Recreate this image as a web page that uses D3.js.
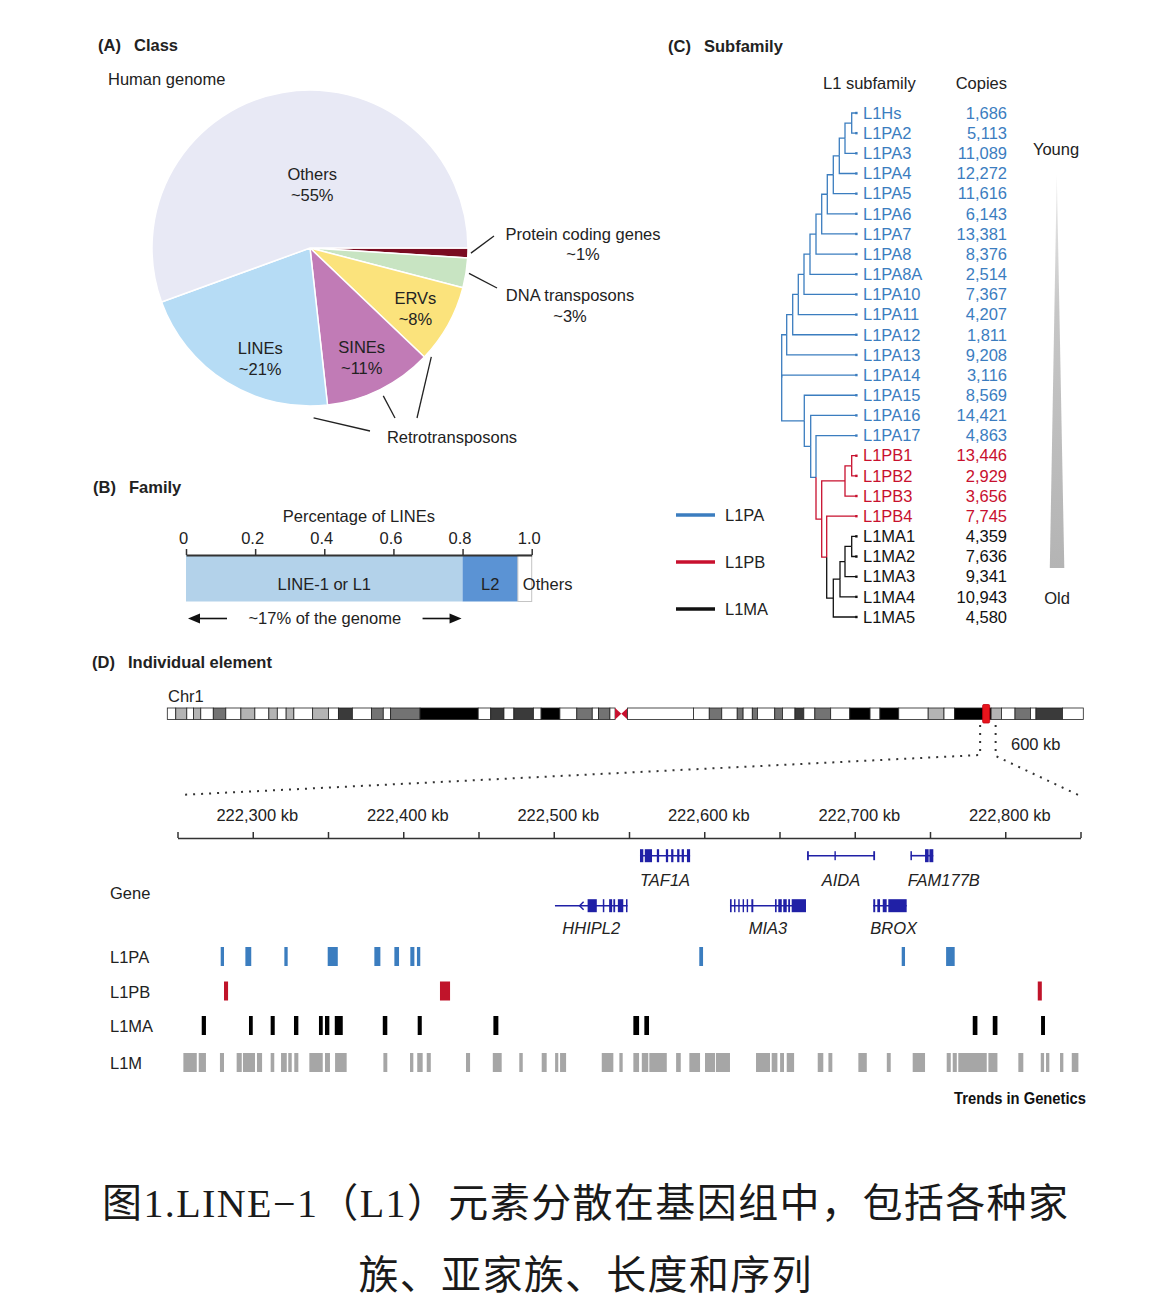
<!DOCTYPE html>
<html><head><meta charset="utf-8"><title>LINE-1 figure</title>
<script src="https://cdn.jsdelivr.net/npm/d3@7/dist/d3.min.js"></script>
<style>html,body{margin:0;padding:0;background:#fff;} svg{display:block;}</style>
</head><body>
<svg id="fig" width="1170" height="1310" viewBox="0 0 1170 1310"></svg>
<script>
// ================= DATA =================
// (A) Class
const classLabels = ["Protein coding genes","DNA transposons","ERVs","SINEs","LINEs","Others"];
const classValues = [1,3,8,11,21,55];
const classColors = ["#7a0b21","#c8e4c2","#fbe37c","#c17bb6","#b6dcf5","#e8e9f5"];

// (B) Family
const familyNames = ["LINE-1 or L1","L2","Others"];
const familyValues = [0.80,0.16,0.04];
const familyColors = ["#b3d2ea","#5b93d4","#ffffff"];
const familyTicks = [0,0.2,0.4,0.6,0.8,1.0];

// (C) Subfamily
const subfamilies = ["L1Hs","L1PA2","L1PA3","L1PA4","L1PA5","L1PA6","L1PA7","L1PA8","L1PA8A","L1PA10","L1PA11","L1PA12","L1PA13","L1PA14","L1PA15","L1PA16","L1PA17","L1PB1","L1PB2","L1PB3","L1PB4","L1MA1","L1MA2","L1MA3","L1MA4","L1MA5"];
const subCopies = [1686,5113,11089,12272,11616,6143,13381,8376,2514,7367,4207,1811,9208,3116,8569,14421,4863,13446,2929,3656,7745,4359,7636,9341,10943,4580];
const subGroups = ["L1PA","L1PA","L1PA","L1PA","L1PA","L1PA","L1PA","L1PA","L1PA","L1PA","L1PA","L1PA","L1PA","L1PA","L1PA","L1PA","L1PA","L1PB","L1PB","L1PB","L1PB","L1MA","L1MA","L1MA","L1MA","L1MA"];
const groupNames = ["L1PA","L1PB","L1MA"];
const groupColors = ["#3b7dbf","#c8102e","#111111"];
// tree: [node height, ...children]; leaves are names
const l1Tree = [75,
  [70,[64,[58.4,[52.7,[46.7,[40.7,[35,[29.4,[23.4,[17.4,[11.7,[5,"L1Hs","L1PA2"],"L1PA3"],"L1PA4"],"L1PA5"],"L1PA6"],"L1PA7"],"L1PA8"],"L1PA8A"],"L1PA10"],"L1PA11"],"L1PA12"],"L1PA13"],
  "L1PA14",
  [52.4,"L1PA15",[46,"L1PA16",[40.7,"L1PA17",[35,[11.7,[5,"L1PB1","L1PB2"],"L1PB3"],[30,"L1PB4",[23.4,[16.7,[11.7,[5,"L1MA1","L1MA2"],"L1MA3"],"L1MA4"],"L1MA5"]]]]]]
];

// (D) Chr1 ideogram (Mb)
const chrLength = 248.96;
const bandStart = [0,2.3,5.3,7.1,9.1,12.5,15.9,20.0,23.8,27.6,29.9,32.3,34.4,39.5,43.8,46.5,50.3,55.5,58.7,60.7,68.7,84.5,87.9,91.5,94.2,99.5,101.6,106.7,111.3,115.5,117.2,120.3,121.7,125.1,143.0,147.3,150.7,154.9,156.5,159.0,160.4,165.1,167.2,170.6,173.0,176.0,180.3,185.5,191.0,193.7,198.8,206.8,211.1,214.0,223.9,226.7,230.4,234.6,236.1,243.3];
const bandEnd   = [2.3,5.3,7.1,9.1,12.5,15.9,20.0,23.8,27.6,29.9,32.3,34.4,39.5,43.8,46.5,50.3,55.5,58.7,60.7,68.7,84.5,87.9,91.5,94.2,99.5,101.6,106.7,111.3,115.5,117.2,120.3,121.7,125.1,143.0,147.3,150.7,154.9,156.5,159.0,160.4,165.1,167.2,170.6,173.0,176.0,180.3,185.5,191.0,193.7,198.8,206.8,211.1,214.0,223.9,226.7,230.4,234.6,236.1,243.3,248.96];
const bandStain = ["gneg","gpos25","gneg","gpos25","gneg","gpos50","gneg","gpos25","gneg","gpos25","gneg","gpos25","gneg","gpos25","gneg","gpos75","gneg","gpos50","gneg","gpos50","gpos100","gneg","gpos75","gneg","gpos75","gneg","gpos100","gneg","gpos50","gneg","gpos50","gneg","acen","gvar","gneg","gpos50","gneg","gpos50","gneg","gpos50","gneg","gpos50","gneg","gpos75","gneg","gpos50","gneg","gpos100","gneg","gpos100","gneg","gpos25","gneg","gpos100","gpos25","gneg","gpos50","gneg","gpos75","gneg"];
const stainColors = {gneg:"#ffffff",gvar:"#ffffff",gpos25:"#b4b4b4",gpos50:"#737373",gpos75:"#3a3a3a",gpos100:"#000000"};

// (D) zoomed region (kb)
const regionKb = [222250,222850];
const axisTicksKb = [222250,222300,222350,222400,222450,222500,222550,222600,222650,222700,222750,222800,222850];

const geneNames = ["TAF1A","AIDA","FAM177B","HHIPL2","MIA3","BROX"];
const geneRow = [0,0,0,1,1,1];
const geneStrand = [null,null,null,"-",null,null];
const geneSpan = [[222557.3,222590.6],[222668.5,222713.3],[222737.2,222752.2],[222500.8,222549.0],[222617.1,222667.6],[222712.3,222734.5]];
const geneExons = [
  [[222557.3,222559.5,"c"],[222560.5,222565.3,"c"],[222568.5,222570.0,"c"],[222574.5,222576.0,"c"],[222578.0,222579.5,"c"],[222582.0,222583.5,"c"],[222585.0,222586.5,"c"],[222588.5,222590.6,"c"]],
  [[222668.3,222669.5,"u"],[222686.5,222687.3,"u"],[222712.3,222713.5,"u"]],
  [[222737.0,222738.0,"u"],[222746.7,222749.1,"c"],[222749.6,222752.2,"c"]],
  [[222522.5,222528.6,"c"],[222532.6,222533.6,"c"],[222536.8,222538.8,"c"],[222539.6,222540.8,"c"],[222542.6,222546.2,"c"],[222548.0,222549.0,"c"]],
  [[222617.1,222618.2,"c"],[222619.8,222620.6,"c"],[222622.6,222623.3,"c"],[222625.5,222626.2,"c"],[222628.2,222629.1,"c"],[222631.3,222632.6,"c"],[222647.0,222648.1,"c"],[222649.2,222651.5,"c"],[222652.5,222654.8,"c"],[222655.8,222657.0,"c"],[222658.1,222667.6,"c"]],
  [[222712.3,222713.6,"c"],[222715.0,222716.8,"c"],[222718.6,222721.2,"c"],[222722.3,222734.5,"c"]]
];

const trackNames = ["L1PA","L1PB","L1MA","L1M"];
const trackColors = ["#3b7dbf","#c0142a","#000000","#a6a6a6"];
const l1paElems = [[222278.7,222280.9],[222295.1,222299.0],[222321.0,222323.2],[222349.8,222356.5],[222380.8,222384.8],[222394.1,222397.2],[222404.7,222407.4],[222409.1,222411.3],[222596.7,222599.2],[222731.2,222733.4],[222760.7,222766.4]];
const l1pbElems = [[222280.9,222283.6],[222424.4,222431.1],[222821.6,222824.3]];
const l1maElems = [[222266.1,222268.9],[222297.5,222300.0],[222311.9,222314.6],[222327.4,222330.3],[222344.0,222346.5],[222348.0,222350.9],[222354.5,222359.8],[222386.4,222389.4],[222409.6,222412.3],[222459.9,222463.2],[222552.9,222556.7],[222560.2,222563.3],[222778.4,222781.5],[222791.7,222794.8],[222823.8,222826.4]];
const l1mElems = [[222253.9,222262.8],[222264.1,222268.9],[222278.2,222280.9],[222289.3,222292.7],[222293.5,222301.5],[222302.8,222306.2],[222311.9,222314.3],[222318.8,222322.6],[222323.6,222325.9],[222327.6,222330.3],[222337.6,222346.5],[222348.0,222351.3],[222354.7,222362.4],[222386.8,222389.4],[222404.5,222406.7],[222409.3,222412.9],[222415.6,222418.3],[222441.7,222444.4],[222459.5,222465.4],[222477.1,222479.4],[222492.0,222495.3],[222500.9,222503.0],[222504.2,222508.2],[222531.9,222539.6],[222543.6,222545.8],[222552.9,222556.7],[222558.5,222562.8],[222563.5,222575.1],[222581.3,222584.4],[222590.1,222597.2],[222600.5,222607.2],[222607.8,222617.1],[222634.4,222643.7],[222644.8,222648.6],[222650.4,222653.0],[222654.8,222659.7],[222675.4,222679.1],[222682.5,222685.1],[222702.4,222708.0],[222721.3,222723.9],[222738.5,222746.7],[222761.1,222763.8],[222765.1,222767.8],[222768.8,222787.7],[222788.8,222794.8],[222808.7,222812.0],[222823.6,222825.8],[222827.1,222829.3],[222836.4,222838.6],[222844.2,222848.6]];
const trackElems = [l1paElems,l1pbElems,l1maElems,l1mElems];

const captionLines = ["图1.LINE−1（L1）元素分散在基因组中，包括各种家","族、亚家族、长度和序列"];

// ================= DRAW =================
const svg = d3.select("#fig");
svg.append("rect").attr("width",1170).attr("height",1310).attr("fill","#fff");
const FONT = "'Liberation Sans', Arial, Helvetica, sans-serif";
const TXT = "#222";
function txt(g,x,y,s,o={}){
  return g.append("text").attr("x",x).attr("y",y).attr("dy",o.dy||"0.35em")
    .attr("text-anchor",o.anchor||"start").attr("font-size",o.size||16.5)
    .attr("font-weight",o.weight||400).attr("font-style",o.style||"normal")
    .attr("fill",o.fill||TXT).attr("font-family",o.family||FONT).text(s);
}
function title(x,y,tag,name){
  txt(svg,x,y,tag,{weight:700});
  txt(svg,x+36,y,name,{weight:700});
}

// ---- (A) ----
title(98,45,"(A)","Class");
txt(svg,108,79,"Human genome");
const R = 158;
const pieG = svg.append("g").attr("transform","translate(310,248)");
const pie = d3.pie().sort(null).value(d=>d).startAngle(Math.PI/2).endAngle(Math.PI/2+2*Math.PI);
const arcs = pie(classValues);
const arc = d3.arc().innerRadius(0).outerRadius(R);
pieG.selectAll("path.slice").data(arcs).join("path").attr("class","slice")
  .attr("d",arc).attr("fill",(d,i)=>classColors[i]).attr("stroke","#fff").attr("stroke-width",1.5);
const pt = (a,r)=>[Math.sin(a)*r,-Math.cos(a)*r];
arcs.forEach((d,i)=>{
  if(classValues[i]>=5){
    const big = classValues[i]>50;
    const rl = big ? R*0.4 : R*0.77;
    const frac = big ? 0.56 : (classValues[i]>15 ? 0.4 : 0.53);
    const a = d.startAngle + frac*(d.endAngle-d.startAngle);
    const c = pt(a, rl);
    txt(pieG,c[0],c[1]-10.5,classLabels[i],{anchor:"middle"});
    txt(pieG,c[0],c[1]+10.5,"~"+classValues[i]+"%",{anchor:"middle"});
  }
});
function seg(g,a,b){ g.append("line").attr("x1",a[0]).attr("y1",a[1]).attr("x2",b[0]).attr("y2",b[1]).attr("stroke","#222").attr("stroke-width",1.3); }
{
  const dP = arcs[0], dD = arcs[1];
  seg(pieG, pt((dP.startAngle+dP.endAngle)/2,R+3), [184,-12]);
  txt(pieG,273,-14,classLabels[0],{anchor:"middle"});
  txt(pieG,273,6,"~"+classValues[0]+"%",{anchor:"middle"});
  seg(pieG, pt((dD.startAngle+dD.endAngle)/2,R+3), [187,40]);
  txt(pieG,260,47,classLabels[1],{anchor:"middle"});
  txt(pieG,260,68,"~"+classValues[1]+"%",{anchor:"middle"});
  // Retrotransposons
  const dE=arcs[2], dS=arcs[3], dL=arcs[4];
  seg(pieG, pt(dL.startAngle+0.09,R+12), [60,183]);
  seg(pieG, pt((dS.startAngle+dS.endAngle)/2,R+7), [85,170]);
  seg(pieG, pt(dE.endAngle-0.03,R+5), [107,170]);
  txt(pieG,142,189,"Retrotransposons",{anchor:"middle"});
}

// ---- (B) ----
title(93,487,"(B)","Family");
const xB = d3.scaleLinear().domain([0,1]).range([186,531.7]);
let cum = 0;
const famStack = familyValues.map(v=>{const s=cum; cum+=v; return [s,cum];});
const gB = svg.append("g");
gB.selectAll("rect").data(famStack).join("rect")
  .attr("x",d=>xB(d[0])).attr("y",555).attr("width",d=>xB(d[1])-xB(d[0])).attr("height",46.5)
  .attr("fill",(d,i)=>familyColors[i]).attr("stroke",(d,i)=>i===2?"#c4c4c4":"none").attr("stroke-width",1);
txt(gB,(xB(famStack[0][0])+xB(famStack[0][1]))/2,584,familyNames[0],{anchor:"middle"});
txt(gB,(xB(famStack[1][0])+xB(famStack[1][1]))/2,584,familyNames[1],{anchor:"middle"});
txt(gB,xB(famStack[2][0])+5,584,familyNames[2]);
const axB = d3.axisTop(xB).tickValues(familyTicks).tickSize(6).tickSizeOuter(0).tickPadding(5)
  .tickFormat(d=>d===0?"0":d.toFixed(1));
const gAxB = svg.append("g").attr("transform","translate(0,555)").call(axB);
gAxB.select(".domain").attr("stroke","#333").attr("stroke-width",2);
gAxB.selectAll(".tick line").attr("stroke","#333").attr("stroke-width",1.5);
gAxB.selectAll(".tick text").attr("font-size",16.5).attr("font-family",FONT).attr("fill",TXT).attr("dx",-3);
txt(svg,(xB(0)+xB(1))/2,516.5,"Percentage of LINEs",{anchor:"middle"});
{
  const y=618.5, l0=xB(famStack[0][0])+2, l1=xB(famStack[0][1])-1;
  const ag=svg.append("g");
  ag.append("line").attr("x1",l0+10).attr("x2",l0+39).attr("y1",y).attr("y2",y).attr("stroke","#111").attr("stroke-width",1.6);
  ag.append("path").attr("d",`M${l0},${y}L${l0+12},${y-5}L${l0+12},${y+5}Z`).attr("fill","#111");
  ag.append("line").attr("x1",l1-39).attr("x2",l1-10).attr("y1",y).attr("y2",y).attr("stroke","#111").attr("stroke-width",1.6);
  ag.append("path").attr("d",`M${l1},${y}L${l1-12},${y-5}L${l1-12},${y+5}Z`).attr("fill","#111");
  txt(ag,(l0+l1)/2,y,"~17% of the genome",{anchor:"middle"});
}

// ---- (C) ----
title(668,46,"(C)","Subfamily");
txt(svg,823,83,"L1 subfamily");
txt(svg,1007,83,"Copies",{anchor:"end"});
const yC = d3.scalePoint().domain(subfamilies).range([113,617]);
const xC = d3.scaleLinear().domain([0,75]).range([856.7,781.7]);
const colorOf = g => groupColors[groupNames.indexOf(g)];
function toHier(n){ return typeof n==="string" ? {name:n} : {h:n[0], children:n.slice(1).map(toHier)}; }
const root = d3.hierarchy(toHier(l1Tree));
root.eachAfter(n=>{
  if(!n.children){ n.y=yC(n.data.name); n.x=xC(0); n.grp=subGroups[subfamilies.indexOf(n.data.name)]; }
  else {
    n.y=(n.children[0].y+n.children[n.children.length-1].y)/2; n.x=xC(n.data.h);
    const gs=n.leaves().map(l=>subGroups[subfamilies.indexOf(l.data.name)]);
    n.grp = gs.includes("L1PA")?"L1PA":gs.includes("L1PB")?"L1PB":"L1MA";
  }
});
const gT = svg.append("g");
gT.selectAll("path").data(root.links()).join("path")
  .attr("d",l=>`M${l.source.x},${l.source.y}V${l.target.y}H${l.target.x}`)
  .attr("fill","none").attr("stroke",l=>colorOf(l.target.grp)).attr("stroke-width",1.3);
gT.selectAll("rect.tip").data(root.leaves()).join("rect").attr("class","tip")
  .attr("x",d=>d.x-1.5).attr("y",d=>d.y-1.2).attr("width",2.4).attr("height",2.4).attr("fill",d=>colorOf(d.grp));
subfamilies.forEach((s,i)=>{
  txt(svg,863,yC(s),s,{fill:colorOf(subGroups[i])});
  txt(svg,1007,yC(s),d3.format(",")(subCopies[i]),{anchor:"end",fill:colorOf(subGroups[i])});
});
groupNames.forEach((g,i)=>{
  const y=515+i*47;
  svg.append("line").attr("x1",676).attr("x2",715).attr("y1",y).attr("y2",y).attr("stroke",groupColors[i]).attr("stroke-width",3.5);
  txt(svg,725,y,g);
});
{
  const defs=svg.append("defs");
  const lg=defs.append("linearGradient").attr("id","ageGrad").attr("x1",0).attr("y1",0).attr("x2",0).attr("y2",1);
  lg.append("stop").attr("offset",0).attr("stop-color","#ececec");
  lg.append("stop").attr("offset",0.35).attr("stop-color","#c6c6c6");
  lg.append("stop").attr("offset",1).attr("stop-color","#b4b4b4");
  svg.append("path").attr("d","M1056.8,175L1064.3,568L1049.8,568Z").attr("fill","url(#ageGrad)");
  txt(svg,1056,149,"Young",{anchor:"middle"});
  txt(svg,1057,598,"Old",{anchor:"middle"});
}

// ---- (D) ----
title(92,662,"(D)","Individual element");
txt(svg,168,696,"Chr1");
const xChr = d3.scaleLinear().domain([0,chrLength]).range([167.3,1083.3]);
const cy0=708, ch=11.5;
const gI = svg.append("g");
bandStart.forEach((s,i)=>{
  const e=bandEnd[i], st=bandStain[i];
  if(st==="acen"){
    const x0=xChr(s), x1=xChr(e), xm=(x0+x1)/2;
    gI.append("path").attr("d",`M${x0},${cy0}L${xm},${cy0+ch/2}L${x0},${cy0+ch}Z`).attr("fill","#c8102e");
    gI.append("path").attr("d",`M${x1},${cy0}L${xm},${cy0+ch/2}L${x1},${cy0+ch}Z`).attr("fill","#c8102e");
  } else {
    gI.append("rect").attr("x",xChr(s)).attr("y",cy0).attr("width",xChr(e)-xChr(s)).attr("height",ch)
      .attr("fill",stainColors[st]).attr("stroke","#222").attr("stroke-width",0.8);
  }
});
const xc = xChr((regionKb[0]+regionKb[1])/2/1000);
gI.append("rect").attr("x",xc-3.5).attr("y",704.5).attr("width",7).attr("height",18.5).attr("rx",1.2)
  .attr("fill","#e8141c").attr("stroke","#c40010").attr("stroke-width",0.8);
const xD = d3.scaleLinear().domain(regionKb).range([177.5,1080.5]);
svg.append("path").attr("d",`M${xc-6},725V755L${xD.range()[0]+2},795`).attr("fill","none")
  .attr("stroke","#333").attr("stroke-width",2).attr("stroke-dasharray","2,6");
svg.append("path").attr("d",`M${xc+9.5},725V756L${xD.range()[1]},796`).attr("fill","none")
  .attr("stroke","#333").attr("stroke-width",2).attr("stroke-dasharray","2,6");
txt(svg,1011,744,(regionKb[1]-regionKb[0])+" kb");

const axD = d3.axisTop(xD).tickValues(axisTicksKb).tickSize(6).tickSizeOuter(0).tickPadding(11)
  .tickFormat(d=> d%100===0 ? d3.format(",")(d)+" kb" : "");
const gAxD = svg.append("g").attr("transform","translate(0,838)").call(axD);
gAxD.select(".domain").attr("stroke","#333").attr("stroke-width",1.5);
gAxD.selectAll(".tick line").attr("stroke","#333").attr("stroke-width",1.5);
gAxD.selectAll(".tick text").attr("font-size",16.5).attr("font-family",FONT).attr("fill",TXT).attr("dx",4);

// genes
const GENE="#2020a6";
const rowY=[855.7,905.7], labY=[880,928];
txt(svg,110,893,"Gene");
const gG = svg.append("g");
geneNames.forEach((g,i)=>{
  const y=rowY[geneRow[i]], s=xD(geneSpan[i][0]), e=xD(geneSpan[i][1]);
  gG.append("line").attr("x1",s).attr("x2",e).attr("y1",y).attr("y2",y).attr("stroke",GENE).attr("stroke-width",1.6);
  geneExons[i].forEach(ex=>{
    const h = ex[2]==="c"?13:9;
    gG.append("rect").attr("x",xD(ex[0])).attr("y",y-h/2).attr("width",Math.max(1.4,xD(ex[1])-xD(ex[0]))).attr("height",h).attr("fill",GENE);
  });
  if(geneStrand[i]==="-"){
    const ax=xD(geneExons[i][0][0])-8;
    gG.append("path").attr("d",`M${ax+4},${y-4}L${ax},${y}L${ax+4},${y+4}`).attr("fill","none").attr("stroke",GENE).attr("stroke-width",1.5);
  }
  const lab = txt(gG,0,labY[geneRow[i]],g,{anchor:"middle",style:"italic"});
  const w = lab.node().getComputedTextLength();
  lab.attr("x", Math.max((s+e)/2, s+w/2-3));
});

// repeat tracks
const trackY=[956.5,991,1025.5,1062.5];
trackNames.forEach((t,i)=>{
  txt(svg,110,trackY[i]+1,t);
  svg.append("g").selectAll("rect").data(trackElems[i]).join("rect")
    .attr("x",d=>xD(d[0])).attr("y",trackY[i]-9.5).attr("width",d=>Math.max(2.5,xD(d[1])-xD(d[0]))).attr("height",19)
    .attr("fill",trackColors[i]);
});

svg.append("text").attr("x",1086).attr("y",1098).attr("dy","0.35em").attr("text-anchor","end")
  .attr("font-family",FONT).attr("font-weight",700).attr("font-size",17).attr("fill","#111")
  .attr("textLength",132).attr("lengthAdjust","spacingAndGlyphs").text("Trends in Genetics");

// caption
const capW=[966,453], capY=[1203,1275];
captionLines.forEach((c,i)=>{
  svg.append("text").attr("x",585).attr("y",capY[i]).attr("dy","0.36em").attr("text-anchor","middle")
    .attr("font-family","'Liberation Serif','Noto Sans CJK SC',serif").attr("font-size",40).attr("font-weight",400)
    .attr("fill","#1a1a1a").attr("textLength",capW[i]).attr("lengthAdjust","spacing").text(c);
});
</script></body></html>
